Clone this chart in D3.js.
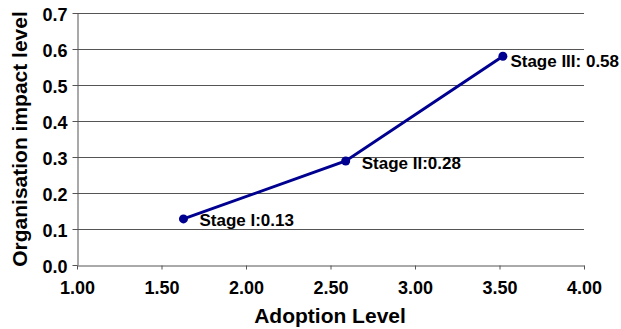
<!DOCTYPE html>
<html><head><meta charset="utf-8">
<script src="https://cdn.jsdelivr.net/npm/d3@7"></script>
<style>body{margin:0;background:#fff}svg{display:block;font-family:"Liberation Sans",Arial,sans-serif;font-weight:bold}</style>
</head><body>
<script>
const stages = ["Stage I:0.13", "Stage II:0.28", "Stage III: 0.58"];
const adoption = [1.63, 2.59, 3.52];
const impact = [0.128, 0.289, 0.58];
const xTicks = [1.0, 1.5, 2.0, 2.5, 3.0, 3.5, 4.0];
const yTicks = [0, 0.1, 0.2, 0.3, 0.4, 0.5, 0.6, 0.7];

const W = 621, H = 329;
const m = {l: 77, r: 37, t: 13, b: 64};
const svg = d3.select("body").append("svg").attr("width", W).attr("height", H);
const x = d3.scaleLinear().domain([1, 4]).range([m.l, W - m.r]);
const y = d3.scaleLinear().domain([0, 0.7]).range([H - m.b, m.t]);

// gridlines
svg.append("g").selectAll("line").data(yTicks.filter(d => d > 0)).join("line")
  .attr("x1", m.l).attr("x2", W - m.r)
  .attr("y1", d => Math.round(y(d)) + 0.5).attr("y2", d => Math.round(y(d)) + 0.5)
  .attr("stroke", "#555").attr("stroke-width", 1);

const xAxis = svg.append("g").attr("transform", `translate(0,${Math.round(y(0)) + 0.5})`)
  .call(d3.axisBottom(x).tickValues(xTicks).tickFormat(d3.format(".2f")).tickSizeInner(4).tickSizeOuter(0).tickPadding(12));
const yAxis = svg.append("g").attr("transform", `translate(${m.l + 0.5},0)`)
  .call(d3.axisLeft(y).tickValues(yTicks).tickFormat(d3.format(".1f")).tickSizeInner(5).tickSizeOuter(0).tickPadding(5));
[xAxis, yAxis].forEach(a => {
  a.selectAll("path,line").attr("stroke", "#555");
  a.selectAll("text").attr("fill", "#000").style("font-size", "18px").style("font-weight", "bold")
   .style("font-family", '"Liberation Sans",Arial,sans-serif');
});
yAxis.selectAll("text").attr("dy", "0.42em");

const pts = adoption.map((d, i) => [d, impact[i], stages[i]]);
svg.append("path").datum(pts)
  .attr("d", d3.line().x(d => x(d[0])).y(d => y(d[1])))
  .attr("fill", "none").attr("stroke", "#000090").attr("stroke-width", 3);
svg.append("g").selectAll("circle").data(pts).join("circle")
  .attr("cx", d => x(d[0])).attr("cy", d => y(d[1])).attr("r", 4.5).attr("fill", "#000090");
const labelDx = [16, 16, 7.5], labelDy = [7, 8, 10.5];
svg.append("g").selectAll("text").data(pts).join("text")
  .attr("x", (d, i) => x(d[0]) + labelDx[i]).attr("y", (d, i) => y(d[1]) + labelDy[i])
  .style("font-size", "17px").attr("fill", "#000").text(d => d[2]);

svg.append("text").attr("x", 330).attr("y", 323).attr("text-anchor", "middle")
  .style("font-size", "21px").text("Adoption Level");
svg.append("text").attr("transform", `translate(27,139) rotate(-90)`)
  .attr("text-anchor", "middle").style("font-size", "21px").text("Organisation impact level");
</script>
</body></html>
